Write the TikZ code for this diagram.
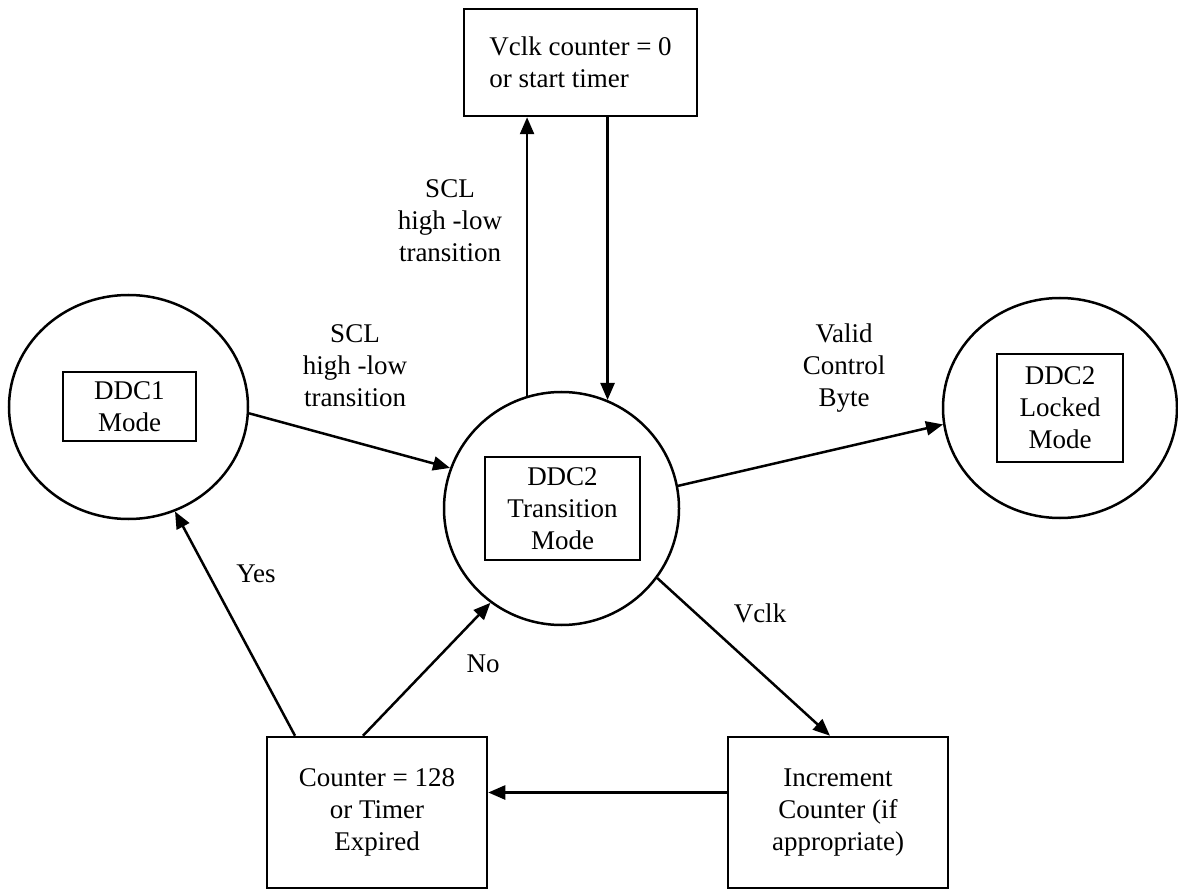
\documentclass[tikz,border=0pt]{standalone}
\usepackage{fontspec}
\setmainfont{Liberation Serif}
\usetikzlibrary{arrows.meta,shapes.geometric}
\begin{document}
\begin{tikzpicture}[x=1pt,y=-1pt,
  every node/.style={font=\fontsize{27}{32}\selectfont},
  stroke/.style={line width=2.5pt},
  state/.style={ellipse, draw, stroke, inner sep=0pt},
  modebox/.style={rectangle, draw, stroke, inner sep=0pt, align=center},
  actbox/.style={rectangle, draw, stroke, inner sep=0pt, align=center},
  lbl/.style={align=center, inner sep=0pt},
  arr/.style={stroke, -{Triangle[length=17pt,width=14pt]}}]
\useasboundingbox (0,0) rectangle (1178,890);

% mode states
\node[state, minimum width=239pt, minimum height=224pt] (ddc1) at (128.5,407) {};
\node[modebox, minimum width=133pt, minimum height=69pt] (ddc1box) at (129.5,406.5) {DDC1\\Mode};
\node[state, minimum width=235pt, minimum height=233pt] (trans) at (561.5,508.5) {};
\node[modebox, minimum width=155pt, minimum height=103pt] (transbox) at (562.5,508.5) {DDC2\\Transition\\Mode};
\node[state, minimum width=234pt, minimum height=220pt] (locked) at (1060,408) {};
\node[modebox, minimum width=126pt, minimum height=108pt] (lockedbox) at (1060,408) {DDC2\\Locked\\Mode};

% action boxes
\node[actbox, minimum width=233pt, minimum height=107pt, align=left] (reset) at (580.5,62.5) {Vclk counter = 0\\or start timer};
\node[actbox, minimum width=220pt, minimum height=151pt] (check) at (377,812.5) {Counter = 128\\or Timer\\Expired};
\node[actbox, minimum width=220pt, minimum height=151pt] (incr) at (838,812.5) {Increment\\Counter (if\\appropriate)};

% transition labels
\node[lbl] (sclup) at (450,221) {SCL\\high -low\\transition};
\node[lbl] (scllow) at (355,366) {SCL\\high -low\\transition};
\node[lbl] (valid) at (844,368) {Valid\\Control\\Byte};
\node[lbl] (vclk) at (760,613) {Vclk};
\node[lbl] (yes) at (256,574) {Yes};
\node[lbl] (no) at (483,664) {No};

% transitions
\draw[arr] (ddc1.-3) -- (trans.160.7);
\draw[arr] (trans.107.7) -- (trans.107.7 |- reset.south);
\draw[arr] (reset.south -| trans.67) -- (trans.67);
\draw[arr] (trans.11.7) -- (locked.188.3);
\draw[arr] (trans.-36) -- ([xshift=-8pt]incr.north);
\draw[arr] ([yshift=20pt]incr.west) -- ([yshift=20pt]check.east);
\draw[arr] ([xshift=-82pt]check.north) -- (ddc1.-66.1);
\draw[arr] ([xshift=-14pt]check.north) -- (trans.-127.8);
\end{tikzpicture}
\end{document}
